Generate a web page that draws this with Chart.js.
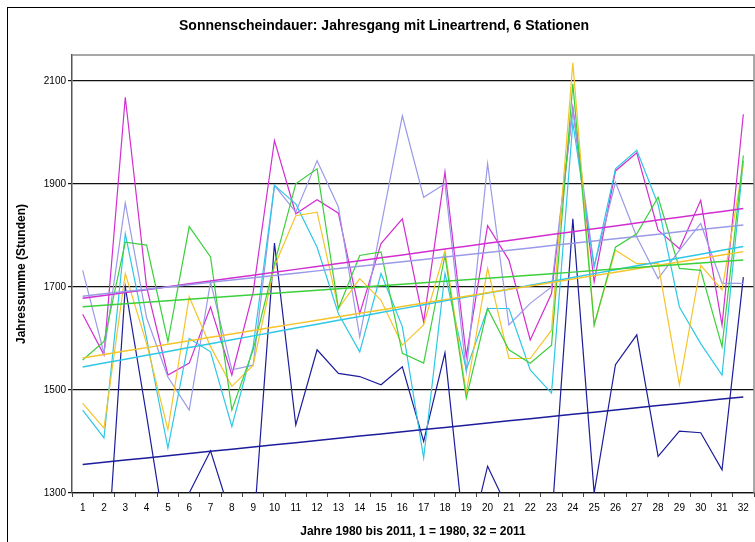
<!DOCTYPE html>
<html><head><meta charset="utf-8">
<script src="https://cdn.jsdelivr.net/npm/chart.js@4/dist/chart.umd.min.js"></script>
<style>
html,body{margin:0;padding:0;background:#fff;}
#wrap{position:relative;width:755px;height:542px;overflow:hidden;background:#fff;}
#frame{position:absolute;left:7px;top:7px;width:800px;height:600px;border-left:1px solid #000;border-top:1px solid #000;}
canvas{position:absolute;left:0;top:0;}
</style></head><body>
<div id="wrap"><div id="frame"></div><canvas id="c" width="755" height="542"></canvas></div>
<script>
const years = ["1","2","3","4","5","6","7","8","9","10","11","12","13","14","15","16","17","18","19","20","21","22","23","24","25","26","27","28","29","30","31","32"];
const yTicks = [1300, 1500, 1700, 1900, 2100];

const stationNavy = [1230,1075,1700,1450,1190,1300,1382,1250,1217,1785,1432,1578,1532,1526,1510,1545,1400,1572,1180,1352,1265,1200,1241,1832,1300,1549,1607,1371,1420,1417,1345,1719];
const stationMagenta = [1647,1568,2068,1700,1529,1552,1661,1529,1690,1984,1842,1869,1843,1648,1784,1832,1632,1923,1565,1819,1752,1597,1687,2048,1710,1925,1960,1810,1774,1868,1626,2035];
const stationLavender = [1732,1571,1863,1640,1525,1461,1710,1539,1548,1897,1845,1945,1855,1603,1818,2032,1874,1900,1536,1939,1626,1668,1700,2045,1740,1903,1797,1716,1771,1823,1707,1707];
const stationCyan = [1461,1407,1803,1600,1387,1600,1574,1429,1584,1897,1861,1777,1648,1574,1726,1623,1368,1726,1539,1658,1658,1539,1494,2019,1739,1929,1965,1860,1661,1590,1529,1945];
const stationYellow = [1474,1426,1726,1590,1423,1681,1584,1507,1548,1740,1838,1845,1658,1716,1674,1587,1626,1771,1494,1736,1561,1561,1616,2135,1626,1771,1745,1745,1510,1742,1694,1939];
const stationGreen = [1558,1594,1787,1781,1594,1817,1758,1461,1578,1745,1900,1929,1658,1761,1768,1571,1552,1761,1484,1658,1578,1552,1587,2094,1626,1777,1803,1874,1736,1732,1584,1955];

const series = [
  {data: stationNavy, color: '#1c1c9c'},
  {data: stationMagenta, color: '#d22ed2'},
  {data: stationLavender, color: '#9a9ae8'},
  {data: stationCyan, color: '#2ec8e6'},
  {data: stationYellow, color: '#f5c32a'},
  {data: stationGreen, color: '#3ccf3c'}
];

function linTrend(arr) {
  const n = arr.length;
  let sx = 0, sy = 0, sxx = 0, sxy = 0;
  arr.forEach((v, i) => { const x = i + 1; sx += x; sy += v; sxx += x * x; sxy += x * v; });
  const b = (n * sxy - sx * sy) / (n * sxx - sx * sx);
  const a = (sy - b * sx) / n;
  return arr.map((v, i) => a + b * (i + 1));
}

const datasets = [];
series.forEach((s, k) => {
  datasets.push({data: s.data, borderColor: s.color, borderWidth: 1.2, pointRadius: 0, tension: 0, fill: false, order: 20 - k});
});
series.forEach((s, k) => {
  datasets.push({data: linTrend(s.data), borderColor: s.color, borderWidth: 1.5, pointRadius: 0, tension: 0, fill: false, order: 10 - k});
});

const plotFrame = {
  id: 'plotFrame',
  beforeDatasetsDraw(chart) {
    const {ctx, chartArea: a} = chart;
    ctx.save();
    ctx.strokeStyle = '#8a8a8a';
    ctx.lineWidth = 1.5;
    ctx.beginPath();
    ctx.moveTo(a.left, a.top); ctx.lineTo(a.right, a.top); ctx.lineTo(a.right, a.bottom);
    ctx.stroke();
    ctx.restore();
  }
};

const FF = '"Liberation Sans", Arial, sans-serif';
new Chart(document.getElementById('c'), {
  type: 'line',
  data: {labels: years, datasets},
  plugins: [plotFrame],
  options: {
    responsive: false,
    devicePixelRatio: 1,
    animation: false,
    events: [],
    layout: {padding: {left: 14, right: 1, top: 0, bottom: 0}},
    plugins: {
      legend: {display: false},
      tooltip: {enabled: false},
      title: {display: true, text: 'Sonnenscheindauer: Jahresgang mit Lineartrend, 6 Stationen', color: '#000',
        font: {family: FF, size: 14, weight: 'bold'}, padding: {top: 18, bottom: 20.2}}
    },
    scales: {
      x: {
        offset: true,
        grid: {offset: true, drawOnChartArea: false, drawTicks: true, tickLength: 4, color: '#444', lineWidth: 1},
        border: {display: true, color: '#111', width: 1.2},
        ticks: {color: '#000', font: {family: FF, size: 10}, padding: 5, maxRotation: 0, autoSkip: false},
        title: {display: true, text: 'Jahre 1980 bis 2011, 1 = 1980, 32 = 2011', color: '#000',
          font: {family: FF, size: 12, weight: 'bold'}, padding: {top: 0, bottom: 3}},
        afterFit(s) { s.height = 49; }
      },
      y: {
        min: 1300, max: 2150,
        afterBuildTicks(s) { s.ticks = yTicks.map(v => ({value: v})); },
        grid: {color: '#111', lineWidth: 1.2, tickLength: 4},
        border: {display: true, color: '#555', width: 1.5},
        ticks: {color: '#000', font: {family: FF, size: 10}, padding: 2, callback: v => String(v)},
        title: {display: true, text: 'Jahressumme (Stunden)', color: '#000',
          font: {family: FF, size: 12, weight: 'bold'}, padding: {top: 0, bottom: 0}},
        afterFit(s) { s.width = 58; }
      }
    }
  }
});
</script>
</body></html>
